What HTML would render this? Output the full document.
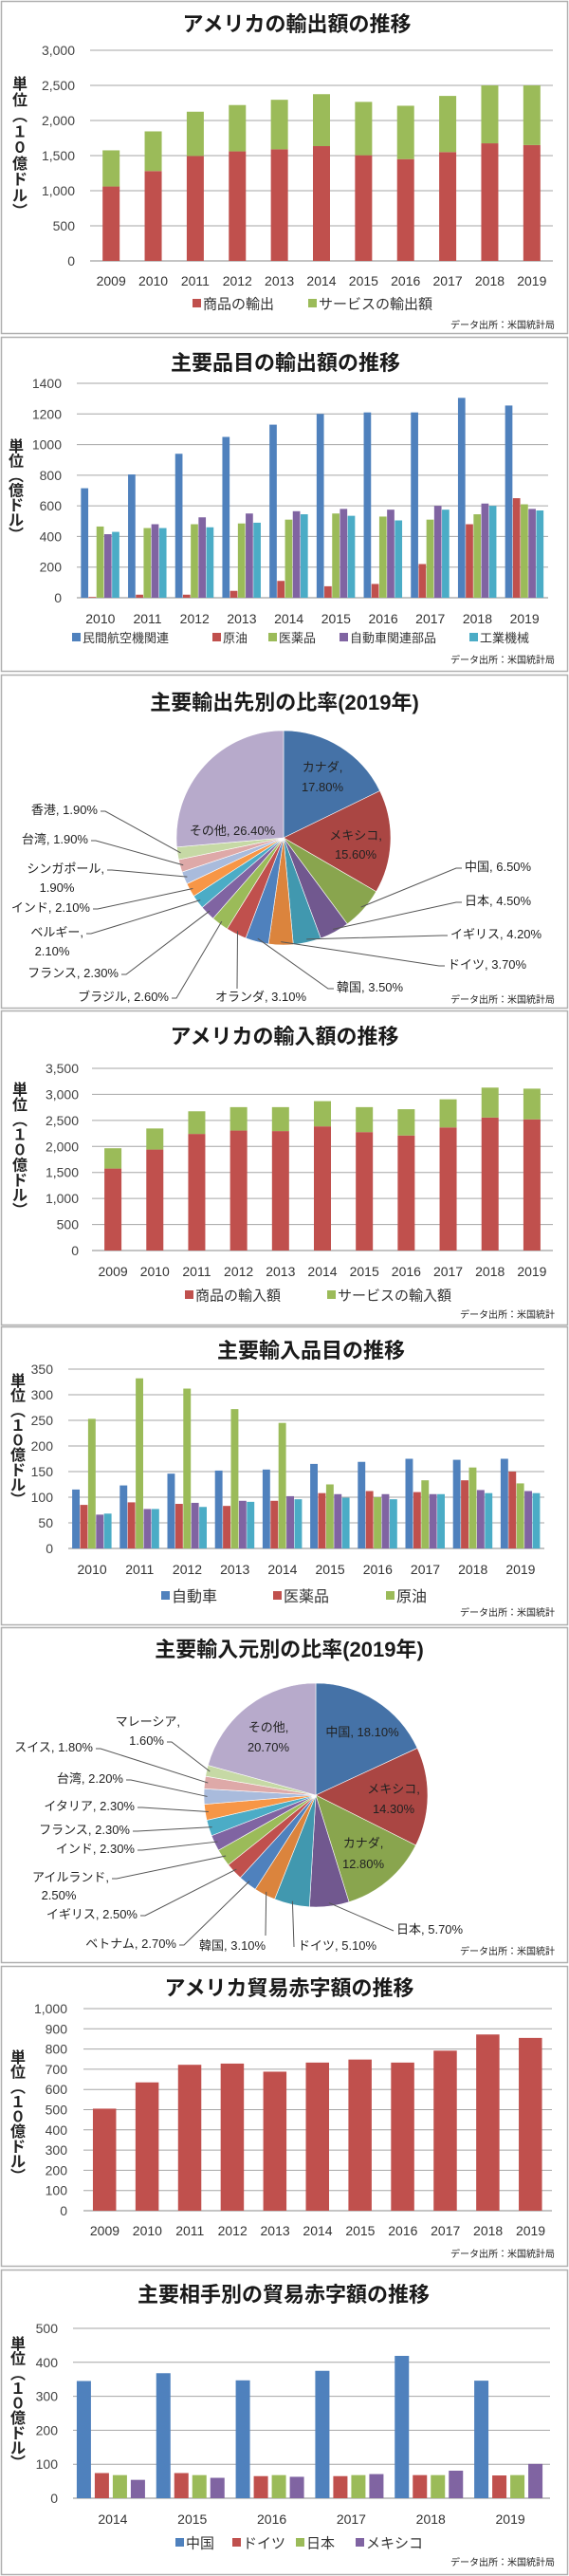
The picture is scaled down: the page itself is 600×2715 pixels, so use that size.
<!DOCTYPE html>
<html><head><meta charset="utf-8">
<style>
html,body{margin:0;padding:0;background:#fff;}
svg{display:block;font-family:"Liberation Sans","Noto Sans CJK JP",sans-serif;}
</style></head>
<body>
<svg id="root" width="600" height="2715" viewBox="0 0 600 2715" xmlns="http://www.w3.org/2000/svg"></svg>
<script>
// ===== Chart 1: exports =====
const c1Years = ["2009","2010","2011","2012","2013","2014","2015","2016","2017","2018","2019"];
const c1Goods = [1060,1280,1495,1560,1590,1635,1505,1450,1550,1675,1650];
const c1Services = [515,565,630,660,705,740,760,760,800,825,850];
const c1Ticks = [0,500,1000,1500,2000,2500,3000];
// ===== Chart 2: major export items =====
const c2Years = ["2010","2011","2012","2013","2014","2015","2016","2017","2018","2019"];
const c2Aircraft = [715,805,940,1050,1130,1200,1210,1210,1305,1255];
const c2Oil = [5,20,20,45,110,75,90,220,480,650];
const c2Pharma = [465,455,480,485,510,550,530,510,545,610];
const c2AutoParts = [415,480,525,550,565,580,575,600,615,580];
const c2Machinery = [430,455,460,490,545,535,505,575,600,570];
const c2Ticks = [0,200,400,600,800,1000,1200,1400];
// ===== Chart 3: export destinations pie =====
const c3Names = ["カナダ","メキシコ","中国","日本","イギリス","ドイツ","韓国","オランダ","ブラジル","フランス","ベルギー","インド","シンガポール","台湾","香港","その他"];
const c3Values = [17.8,15.6,6.5,4.5,4.2,3.7,3.5,3.1,2.6,2.3,2.1,2.1,1.9,1.9,1.9,26.4];
// ===== Chart 4: imports =====
const c4Years = ["2009","2010","2011","2012","2013","2014","2015","2016","2017","2018","2019"];
const c4Goods = [1575,1940,2240,2305,2295,2385,2275,2210,2365,2555,2520];
const c4Services = [390,405,435,450,460,485,480,505,540,575,590];
const c4Ticks = [0,500,1000,1500,2000,2500,3000,3500];
// ===== Chart 5: major import items =====
const c5Years = ["2010","2011","2012","2013","2014","2015","2016","2017","2018","2019"];
const c5Auto = [115,123,146,152,154,165,169,175,173,175];
const c5Pharma = [85,90,87,83,93,108,112,110,133,150];
const c5Oil = [253,332,312,272,245,125,100,133,158,127];
const c5Other1 = [66,77,89,93,102,106,106,106,114,112];
const c5Other2 = [68,77,81,91,96,99,96,106,108,108];
const c5Ticks = [0,50,100,150,200,250,300,350];
// ===== Chart 6: import sources pie =====
const c6Names = ["中国","メキシコ","カナダ","日本","ドイツ","韓国","ベトナム","イギリス","アイルランド","インド","フランス","イタリア","台湾","スイス","マレーシア","その他"];
const c6Values = [18.1,14.3,12.8,5.7,5.1,3.1,2.7,2.5,2.5,2.3,2.3,2.3,2.2,1.8,1.6,20.7];
// ===== Chart 7: trade deficit =====
const c7Years = ["2009","2010","2011","2012","2013","2014","2015","2016","2017","2018","2019"];
const c7Deficit = [505,635,722,728,688,733,748,733,792,872,855];
const c7Ticks = [0,100,200,300,400,500,600,700,800,900,1000];
// ===== Chart 8: deficit by partner =====
const c8Years = ["2014","2015","2016","2017","2018","2019"];
const c8China = [345,368,347,375,419,346];
const c8Germany = [74,74,65,65,68,67];
const c8Japan = [68,68,68,68,68,68];
const c8Mexico = [54,60,63,71,81,101];
const c8Ticks = [0,100,200,300,400,500];

const NS = "http://www.w3.org/2000/svg";
const root = document.getElementById('root');
const BLUE="#4f81bd", RED="#c0504d", GREEN="#9bbb59", PURPLE="#8064a2", TEAL="#4bacc6";
const PIE_COLORS = ["#4572a7","#aa4643","#89a54e","#71588f","#4198af","#db843d","#4f81bd","#c0504d","#9bbb59","#8064a2","#4bacc6","#f79646","#a9bbdc","#dea9a8","#c6d9a5","#b7aacb"];

function mk(tag, attrs, parent){
  const e=document.createElementNS(NS,tag);
  for(const k in attrs) e.setAttribute(k,attrs[k]);
  (parent||root).appendChild(e);
  return e;
}
function txt(s,x,y,size,opts,parent){
  opts=opts||{};
  const t=mk('text',{x:x,y:y,'font-size':size,fill:opts.fill||'#333','text-anchor':opts.anchor||'start','font-weight':opts.bold?'bold':'normal'},parent);
  t.textContent=s;
  return t;
}
function fmt(v,comma){ return comma? v.toLocaleString('en-US') : String(v); }

function panel(y0,y1,name){
  const g=mk('g',{});
  
  
  const r=mk('rect',{x:1.5,y:y0+0.5,width:597,height:y1-y0,fill:'#fff',stroke:'#b0b0b0','stroke-width':1.5},g);
  
  
  return g;
}
function title(g,s,cx,cy){
  const t=txt(s,cx,cy+8,22,{anchor:'middle',bold:true,fill:'#1a1a1a'},g);
  
  
}
function source(g,s,y){
  const t=txt(s,585,y+4,10,{anchor:'end',fill:'#222'},g);
  
  
}
function unitLabel(g,chars,x,yStart,yEnd){
  const gg=mk('g',{},g);
  
  
  const step=(yEnd-yStart)/(chars.length-1);
  chars.forEach((c,i)=>{ txt(c,x,yStart+i*step+6,16,{anchor:'middle',bold:true,fill:'#222'},gg); });
}
function legend(g,items,y,size){
  const lg=mk('g',{},g);
  
  
  items.forEach(it=>{
    const e=mk('g',{},lg);
    
    
    mk('rect',{x:it.x,y:y-5,width:9,height:9,fill:it.color},e);
    txt(it.label,it.x+11,y+size*0.38,size,{fill:'#333'},e);
  });
}
function axes(g,o){
  const ys=v=>o.y0-v/o.max*(o.y0-o.y1);
  o.ticks.forEach(t=>{
    const y=ys(t);
    const l=mk('line',{x1:o.x0,x2:o.x1,y1:y,y2:y,stroke:t===0?'#888':'#a6a6a6','stroke-width':1},g);
    
    
    const tl=txt(fmt(t,o.comma),o.labelX,y+5,o.tickSize||14,{anchor:'end',fill:'#444'},g);
    
    
  });
  const cw=(o.x1-o.x0)/o.cats.length;
  o.cats.forEach((c,i)=>{
    const tl=txt(c,o.x0+cw*(i+0.5),o.catY+5,o.catSize||14,{anchor:'middle',fill:'#333'},g);
    
    
  });
  return ys;
}
function stacked(g,o,goods,services){
  const ys=axes(g,o);
  const cw=(o.x1-o.x0)/o.cats.length;
  o.cats.forEach((c,i)=>{
    const x=o.x0+cw*(i+0.5)-o.bw/2;
    const b1=mk('rect',{x:x,y:ys(goods[i]),width:o.bw,height:ys(0)-ys(goods[i]),fill:RED},g);
    
    
    const top=goods[i]+services[i];
    const b2=mk('rect',{x:x,y:ys(top),width:o.bw,height:ys(goods[i])-ys(top),fill:GREEN},g);
    
    
  });
}
function grouped(g,o,series,colors,names){
  const ys=axes(g,o);
  const cw=(o.x1-o.x0)/o.cats.length;
  const n=series.length;
  o.cats.forEach((c,i)=>{
    const start=o.x0+cw*(i+0.5)-n*o.bw/2;
    series.forEach((s,j)=>{
      const b=mk('rect',{x:start+j*o.bw,y:ys(s[i]),width:o.bw-(o.gap||0.5),height:ys(0)-ys(s[i]),fill:colors[j]},g);
      
      
    });
  });
}
function pie(g,cx,cy,r,vals,names,layout){
  const total=vals.reduce((a,b)=>a+b,0);
  let a=-Math.PI/2;
  const mids=[];
  vals.forEach((v,i)=>{
    const da=v/total*2*Math.PI;
    const a2=a+da;
    const x1=cx+r*Math.cos(a),y1=cy+r*Math.sin(a),x2=cx+r*Math.cos(a2),y2=cy+r*Math.sin(a2);
    const p=mk('path',{d:`M${cx},${cy}L${x1},${y1}A${r},${r} 0 ${da>Math.PI?1:0} 1 ${x2},${y2}Z`,fill:PIE_COLORS[i],stroke:'#fff','stroke-width':0.6},g);
    
    
    mids.push((a+a2)/2);
    a=a2;
  });
  vals.forEach((v,i)=>{
    const L=layout[i];
    const pct=v.toFixed(2)+'%';
    const lg=mk('g',{},g);
    
    
    if(L.split){
      txt(names[i]+',',L.x,L.y+5,13,{anchor:L.anchor,fill:'#222'},lg);
      txt(pct,L.x2!==undefined?L.x2:L.x,L.y2+5,13,{anchor:L.anchor2||L.anchor,fill:'#222'},lg);
    } else {
      txt(names[i]+', '+pct,L.x,L.y+5,13,{anchor:L.anchor,fill:'#222'},lg);
    }
    if(L.lx!==undefined){
      const ex=cx+r*0.97*Math.cos(mids[i]), ey=cy+r*0.97*Math.sin(mids[i]);
      const ln=mk('polyline',{points:`${L.lx},${L.ly} ${L.lx+(L.hx||0)},${L.ly} ${ex},${ey}`,fill:'none',stroke:'#555','stroke-width':1},lg);
      
      
    }
  });
}
const UNIT10 = ['単','位','︵','１','０','億','ド','ル','︶'];

// ---- Chart 1
let g=panel(1,351,'exports-chart');
title(g,'アメリカの輸出額の推移',313,25);
unitLabel(g,UNIT10,21,88,222);
stacked(g,{x0:95,x1:583,y0:275,y1:53,max:3000,ticks:c1Ticks,comma:true,labelX:79,cats:c1Years,catY:296,bw:18},c1Goods,c1Services);
legend(g,[{x:203,color:RED,label:'商品の輸出'},{x:325,color:GREEN,label:'サービスの輸出額'}],320,15);
source(g,'データ出所：米国統計局',342);

// ---- Chart 2
g=panel(355,707,'export-items-chart');
title(g,'主要品目の輸出額の推移',301,382);
unitLabel(g,['単','位','︵','億','ド','ル','︶'],17,470,563);
grouped(g,{x0:81,x1:578,y0:630,y1:404,max:1400,ticks:c2Ticks,labelX:65,cats:c2Years,catY:652,bw:8.2},
  [c2Aircraft,c2Oil,c2Pharma,c2AutoParts,c2Machinery],[BLUE,RED,GREEN,PURPLE,TEAL],['aircraft','oil','pharma','autoparts','machinery']);
legend(g,[{x:76,color:BLUE,label:'民間航空機関連'},{x:224,color:RED,label:'原油'},{x:283,color:GREEN,label:'医薬品'},{x:358,color:PURPLE,label:'自動車関連部品'},{x:495,color:TEAL,label:'工業機械'}],672,13);
source(g,'データ出所：米国統計局',695);

// ---- Chart 3 (pie)
g=panel(711,1062,'export-destinations-pie');
title(g,'主要輸出先別の比率(2019年)',300,740);
pie(g,299,883,113,c3Values,c3Names,[
  {split:true,x:340,y:808,y2:829,anchor:'middle'},
  {split:true,x:375,y:880,y2:900,anchor:'middle'},
  {x:490,y:913,anchor:'start',lx:487,ly:915,hx:-6},
  {x:490,y:949,anchor:'start',lx:487,ly:951,hx:-6},
  {x:475,y:984,anchor:'start',lx:472,ly:986,hx:-6},
  {x:472,y:1016,anchor:'start',lx:469,ly:1018,hx:-6},
  {x:355,y:1040,anchor:'start',lx:352,ly:1042,hx:-6},
  {x:275,y:1050,anchor:'middle',lx:250,ly:1042,hx:0},
  {x:178,y:1050,anchor:'end',lx:181,ly:1052,hx:5},
  {x:125,y:1025,anchor:'end',lx:128,ly:1027,hx:5},
  {split:true,x:88,y:982,y2:1002,x2:55,anchor:'end',anchor2:'middle',lx:91,ly:984,hx:5},
  {x:95,y:956,anchor:'end',lx:98,ly:958,hx:5},
  {split:true,x:110,y:915,y2:935,x2:60,anchor:'end',anchor2:'middle',lx:113,ly:917,hx:5},
  {x:93,y:884,anchor:'end',lx:96,ly:886,hx:5},
  {x:103,y:853,anchor:'end',lx:106,ly:855,hx:5},
  {x:245,y:875,anchor:'middle'}
]);
source(g,'データ出所：米国統計局',1053);

// ---- Chart 4
g=panel(1065,1396,'imports-chart');
title(g,'アメリカの輸入額の推移',300,1092);
unitLabel(g,UNIT10,21,1148,1275);
stacked(g,{x0:97,x1:583,y0:1318,y1:1126,max:3500,ticks:c4Ticks,comma:true,labelX:83,cats:c4Years,catY:1340,bw:18},c4Goods,c4Services);
legend(g,[{x:195,color:RED,label:'商品の輸入額'},{x:345,color:GREEN,label:'サービスの輸入額'}],1365,15);
source(g,'データ出所：米国統計',1385);

// ---- Chart 5
g=panel(1398,1712,'import-items-chart');
title(g,'主要輸入品目の推移',328,1423);
unitLabel(g,UNIT10,19,1455,1580);
grouped(g,{x0:72,x1:574,y0:1632,y1:1443,max:350,ticks:c5Ticks,labelX:56,cats:c5Years,catY:1654,bw:8.4},
  [c5Auto,c5Pharma,c5Oil,c5Other1,c5Other2],[BLUE,RED,GREEN,PURPLE,TEAL],['auto','pharma','oil','other1','other2']);
legend(g,[{x:170,color:BLUE,label:'自動車'},{x:288,color:RED,label:'医薬品'},{x:407,color:GREEN,label:'原油'}],1682,16);
source(g,'データ出所：米国統計',1699);

// ---- Chart 6 (pie)
g=panel(1715,2068,'import-sources-pie');
title(g,'主要輸入元別の比率(2019年)',305,1738);
pie(g,333,1892,118,c6Values,c6Names,[
  {x:382,y:1825,anchor:'middle'},
  {split:true,x:415,y:1885,y2:1906,anchor:'middle'},
  {split:true,x:383,y:1942,y2:1964,anchor:'middle'},
  {x:418,y:2033,anchor:'start',lx:415,ly:2035,hx:0},
  {x:314,y:2050,anchor:'start',lx:310,ly:2052,hx:0},
  {x:210,y:2050,anchor:'start',lx:280,ly:2040,hx:0},
  {x:186,y:2048,anchor:'end',lx:189,ly:2050,hx:5},
  {x:145,y:2017,anchor:'end',lx:148,ly:2019,hx:5},
  {split:true,x:115,y:1978,y2:1997,x2:62,anchor:'end',anchor2:'middle',lx:118,ly:1980,hx:5},
  {x:142,y:1948,anchor:'end',lx:145,ly:1950,hx:5},
  {x:137,y:1928,anchor:'end',lx:140,ly:1930,hx:5},
  {x:142,y:1903,anchor:'end',lx:145,ly:1905,hx:5},
  {x:130,y:1874,anchor:'end',lx:133,ly:1876,hx:5},
  {x:98,y:1841,anchor:'end',lx:101,ly:1843,hx:5},
  {split:true,x:190,y:1814,y2:1834,x2:173,anchor:'end',lx:176,ly:1836,hx:5},
  {split:true,x:283,y:1820,y2:1841,anchor:'middle'}
]);
source(g,'データ出所：米国統計',2056);

// ---- Chart 7
g=panel(2072,2388,'trade-deficit-chart');
title(g,'アメリカ貿易赤字額の推移',305,2095);
unitLabel(g,UNIT10,19,2168,2293);
grouped(g,{x0:88,x1:582,y0:2330,y1:2117,max:1000,ticks:c7Ticks,comma:true,labelX:71,cats:c7Years,catY:2351,bw:25,gap:0},[c7Deficit],[RED],['deficit']);
source(g,'データ出所：米国統計局',2375);

// ---- Chart 8
g=panel(2392,2713,'deficit-by-partner-chart');
title(g,'主要相手別の貿易赤字額の推移',299,2418);
unitLabel(g,UNIT10,19,2470,2595);
grouped(g,{x0:77,x1:580,y0:2633,y1:2454,max:500,ticks:c8Ticks,labelX:61,cats:c8Years,catY:2655,bw:19,gap:4},
  [c8China,c8Germany,c8Japan,c8Mexico],[BLUE,RED,GREEN,PURPLE],['china','germany','japan','mexico']);
legend(g,[{x:185,color:BLUE,label:'中国'},{x:245,color:RED,label:'ドイツ'},{x:312,color:GREEN,label:'日本'},{x:375,color:PURPLE,label:'メキシコ'}],2680,15);
source(g,'データ出所：米国統計局',2700);
</script>
</body></html>
